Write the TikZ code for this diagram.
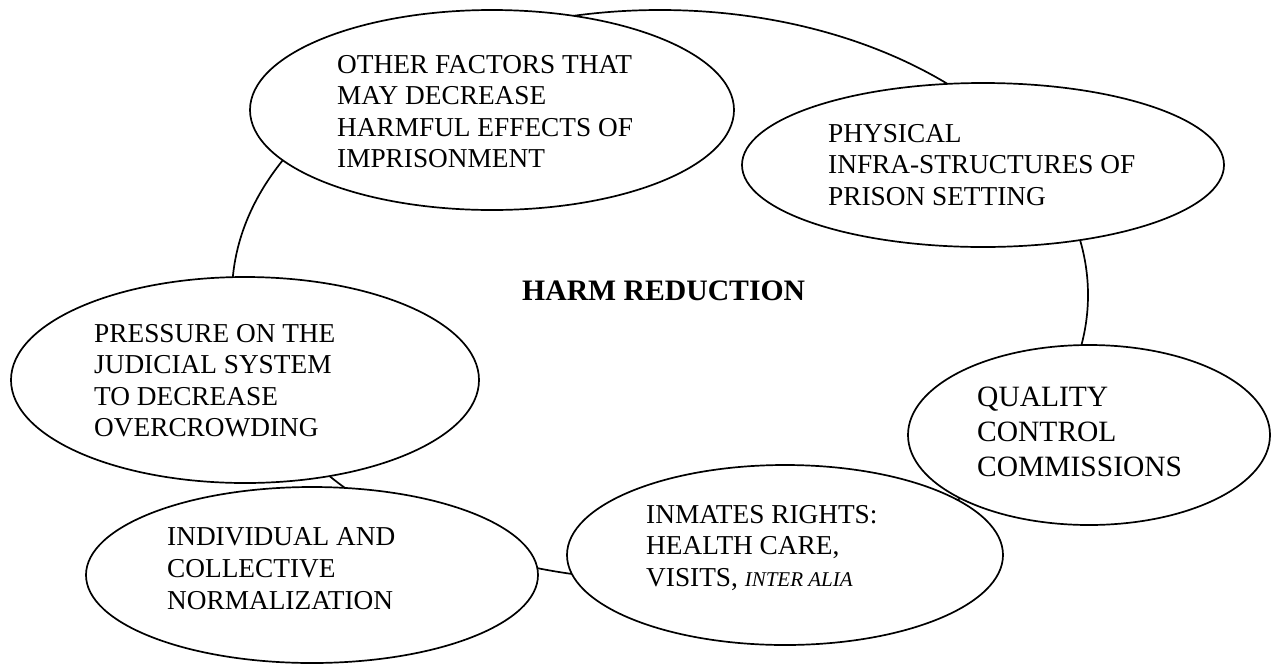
\documentclass[tikz,border=0pt]{standalone}
\usepackage{fontspec}
\setmainfont{Liberation Serif}
\usetikzlibrary{shapes.geometric}
\begin{document}
\begin{tikzpicture}[x=1pt,y=-1pt,
  oval/.style={ellipse, draw, line width=1.7pt, fill=white, inner sep=0pt, outer sep=0pt},
  lbl/.style={anchor=base west, inner sep=0pt, font=\fontsize{27.3pt}{31.5pt}\selectfont},
  biglbl/.style={anchor=base west, inner sep=0pt, font=\fontsize{29.5pt}{35pt}\selectfont},
  title/.style={anchor=base west, inner sep=0pt, font=\bfseries\fontsize{29.7pt}{34pt}\selectfont}]
\fill[white] (0,0) rectangle (1272,665);
\useasboundingbox (0,0) rectangle (1272,665);

% the ring that links all factors
\node[oval, minimum width=856pt, minimum height=570pt] (ring) at (660,295) {};

% factor ovals laid on the ring
\node[oval, minimum width=484pt, minimum height=200pt] (other) at (492,110) {};
\node[oval, minimum width=482pt, minimum height=164pt] (physical) at (983,165) {};
\node[oval, minimum width=362pt, minimum height=180pt] (quality) at (1089,435) {};
\node[oval, minimum width=436pt, minimum height=180pt] (inmates) at (785,555) {};
\node[oval, minimum width=468pt, minimum height=206pt] (pressure) at (245,380) {};
\node[oval, minimum width=452pt, minimum height=176pt] (individual) at (312,575) {};

% labels
\node[title] (hr) at (522,300) {HARM REDUCTION};
\node[lbl] (tother) at (337,73) {\vtop{\hbox{OTHER FACTORS THAT}\hbox{MAY DECREASE}\hbox{HARMFUL EFFECTS OF}\hbox{IMPRISONMENT}}};
\node[lbl] (tphysical) at (828,142) {\vtop{\hbox{PHYSICAL}\hbox{INFRA-STRUCTURES OF}\hbox{PRISON SETTING}}};
\node[lbl] (tpressure) at (94,342) {\vtop{\hbox{PRESSURE ON THE}\hbox{JUDICIAL SYSTEM}\hbox{TO DECREASE}\hbox{OVERCROWDING}}};
\node[biglbl] (tquality) at (977,406) {\vtop{\hbox{QUALITY}\hbox{CONTROL}\hbox{COMMISSIONS}}};
\node[lbl] (tinmates) at (646,523) {\vtop{\hbox{INMATES RIGHTS:}\hbox{HEALTH CARE,}\hbox{VISITS, {\itshape\fontsize{21pt}{21pt}\selectfont INTER ALIA}}}};
\node[lbl] (tindividual) at (167,545) {\vtop{\baselineskip=32pt\hbox{INDIVIDUAL AND}\hbox{COLLECTIVE}\hbox{NORMALIZATION}}};
\end{tikzpicture}
\end{document}
